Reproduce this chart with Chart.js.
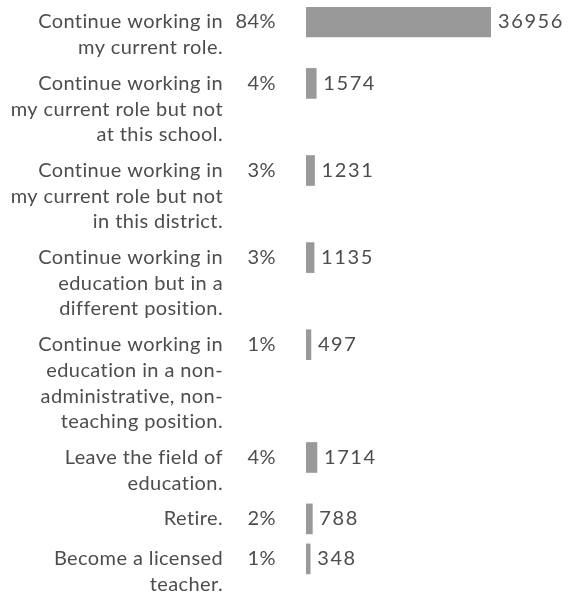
<!DOCTYPE html>
<html>
<head>
<meta charset="utf-8">
<script src="https://cdn.jsdelivr.net/npm/chart.js@4/dist/chart.umd.min.js"></script>
<style>
  html, body { margin: 0; padding: 0; background: #ffffff; }
  #wrap { width: 569px; height: 593px; }
</style>
</head>
<body>
<div id="wrap"><canvas id="chart"></canvas></div>
<script>
const categories = [
	["Continue working in", "my current role."]
	, ["Continue working in", "my current role but not", "at this school."]
	, ["Continue working in", "my current role but not", "in this district."]
	, ["Continue working in", "education but in a", "different position."]
	, ["Continue working in", "education in a non-", "administrative, non-", "teaching position."]
	, ["Leave the field of", "education."]
	, ["Retire."]
	, ["Become a licensed", "teacher."]
];
const counts = [36956, 1574, 1231, 1135, 497, 1714, 788, 348];
const percents = ["84%", "4%", "3%", "3%", "1%", "4%", "2%", "1%"];

const FONT = "20px Lato";
const TEXT_COLOR = "#4d4d4d";
const BAR_COLOR = "#999999";
const LINE_H = 25.7;
const BAR_H = 30;
const GAP = 10;

// rows are as tall as their label, bar sits at the top of the row
const rowCenters = [];
let rowTop = 0;
categories.forEach(lines => {
	rowCenters.push(rowTop + BAR_H / 2);
	rowTop += Math.max(lines.length * LINE_H, BAR_H) + GAP;
});

const labelsPlugin = {
	id: "rowLabels"
	, afterDatasetsDraw(chart) {
		const ctx = chart.ctx;
		const area = chart.chartArea;
		const meta = chart.getDatasetMeta(0);
		ctx.save();
		ctx.font = FONT;
		ctx.fillStyle = TEXT_COLOR;
		ctx.textBaseline = "middle";
		categories.forEach((lines, i) => {
			const bar = meta.data[i];
			const y = bar.y;
			ctx.letterSpacing = "0.4px";
			ctx.textAlign = "right";
			lines.forEach((line, j) => ctx.fillText(line, area.left - 83, y + j * LINE_H));
			ctx.fillText(percents[i], area.left - 30, y);
			// counts use wider digits in the original
			ctx.letterSpacing = "1.6px";
			ctx.textAlign = "left";
			ctx.fillText(String(counts[i]), bar.x + 7, y);
		});
		ctx.restore();
	}
};

new Chart(document.getElementById("chart"), {
	type: "bar"
	, data: {
		datasets: [{
			data: counts.map((v, i) => ({ x: v, y: rowCenters[i] }))
			, backgroundColor: BAR_COLOR
			, borderWidth: 0
			, barThickness: BAR_H
			, base: -500
		}]
	}
	, options: {
		indexAxis: "y"
		, responsive: true
		, maintainAspectRatio: false
		, animation: false
		, layout: { padding: { left: 306, right: 78, top: 7, bottom: 0 } }
		, plugins: { legend: { display: false }, tooltip: { enabled: false } }
		, scales: {
			x: { type: "linear", min: -500, max: 36956, offset: false, display: false }
			, y: { type: "linear", reverse: true, min: 0, max: 586, offset: false, display: false }
		}
	}
	, plugins: [labelsPlugin]
});
</script>
</body>
</html>
